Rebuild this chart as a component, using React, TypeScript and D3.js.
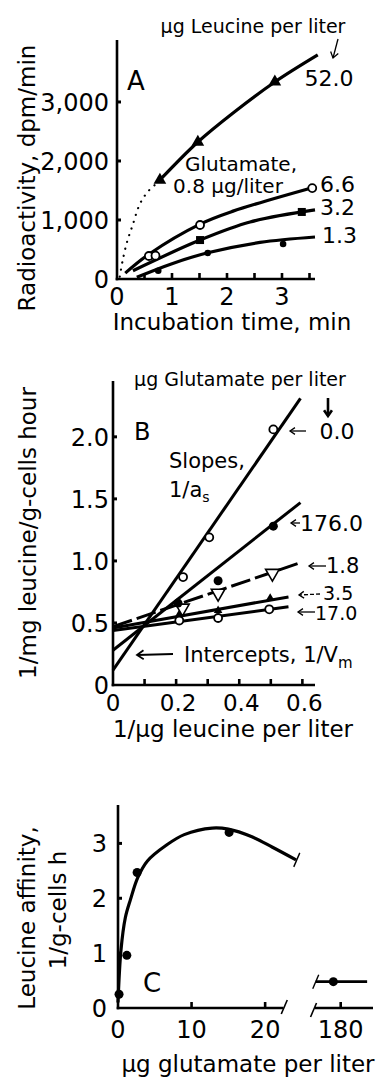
import React, { useEffect, useRef } from 'react';
import * as d3 from 'd3';

// ---- Panel A: radioactivity vs incubation time ----
const timeLabels = [0, 1, 2, 3];
const timeMinor = [0.5, 1, 1.5, 2, 2.5, 3, 3.5];
const radTicks = [0, 1000, 2000, 3000];
const radTickLabels = ['0', '1,000', '2,000', '3,000'];

const leu52Pts = [[0.78, 1678], [1.47, 2322], [2.87, 3340]];
const leu52Curve = [[0.78, 1678], [1.47, 2322], [2.11, 2814], [2.87, 3339], [3.65, 3797]];
const leu52Dotted = [[0.05, 40], [0.1, 300], [0.18, 620], [0.28, 900], [0.42, 1280], [0.58, 1500], [0.75, 1640]];
const leu66Pts = [[0.58, 390], [0.7, 395], [1.51, 915], [3.55, 1540]];
const leu66Curve = [[0.15, 100], [0.58, 420], [1.51, 930], [2.11, 1150], [3.6, 1560]];
const leu32Pts = [[1.51, 660], [3.36, 1136]];
const leu32Curve = [[0.29, 140], [1.51, 660], [2.42, 966], [3.6, 1170]];
const leu13Pts = [[0.75, 140], [1.65, 440], [3.02, 593]];
const leu13Curve = [[0.36, 30], [1.0, 260], [1.65, 445], [2.6, 620], [3.6, 712]];

// ---- Panel B: double reciprocal plot ----
const recipLabels = [0, 0.2, 0.4, 0.6];
const recipMinor = [0.1, 0.2, 0.3, 0.4, 0.5, 0.6];
const invTicks = [0, 0.5, 1.0, 1.5, 2.0];
const invTickLabels = ['0', '0.5', '1.0', '1.5', '2.0'];

const g0Line = [[0, 0.12], [0.594, 2.31]];
const g176Line = [[0, 0.28], [0.594, 1.47]];
const g18Line = [[0, 0.47], [0.587, 0.98]];
const g35Line = [[0, 0.46], [0.556, 0.71]];
const g17Line = [[0, 0.44], [0.556, 0.63]];
const g0Pts = [[0.222, 0.87], [0.305, 1.19], [0.508, 2.06]];
const g176Pts = [[0.206, 0.66], [0.333, 0.84], [0.508, 1.28]];
const g18Pts = [[0.22, 0.62], [0.333, 0.74], [0.505, 0.9]];
const g35Pts = [[0.21, 0.57], [0.333, 0.6], [0.498, 0.7]];
const g17Pts = [[0.21, 0.52], [0.333, 0.54], [0.495, 0.61]];

// ---- Panel C: affinity vs glutamate ----
const glutLabels = [0, 10, 20];
const glutMinor = [10, 20];
const glutFarLabels = [180];
const affTicks = [0, 1, 2, 3];
const affPts = [[0.14, 0.25], [1.2, 0.96], [2.6, 2.47], [15.1, 3.2]];
const affCurve = [[0, 0.1], [0.4, 1.05], [1, 1.65], [1.7, 1.98], [2.7, 2.38], [4, 2.68], [6.6, 2.97], [9, 3.16], [12.8, 3.28], [15, 3.26], [18.2, 3.12], [21, 2.93], [24.2, 2.7]];
const affFarPts = [[179, 0.48]];
const affFarLine = [[176.6, 0.48], [183.6, 0.48]];

const FONT = 'DejaVu Sans';

const App = () => {
  const ref = useRef(null);

  useEffect(() => {
    const svg = d3.select(ref.current);
    svg.selectAll('*').remove();
    const g = svg.append('g').attr('font-family', FONT).attr('fill', '#000');

    const txt = (x, y, s, size, anchor = 'start') =>
      g.append('text').attr('x', x).attr('y', y).attr('font-size', size)
        .attr('text-anchor', anchor).text(s);

    const arrow = (x1, y1, x2, y2, w = 1.5, dash = null, head = 6) => {
      const a = Math.atan2(y2 - y1, x2 - x1);
      const p = g.append('path')
        .attr('d', `M${x1},${y1}L${x2},${y2}`)
        .attr('stroke', '#000').attr('stroke-width', w).attr('fill', 'none');
      if (dash) p.attr('stroke-dasharray', dash);
      const h1 = [x2 - head * Math.cos(a - 0.6), y2 - head * Math.sin(a - 0.6)];
      const h2 = [x2 - head * Math.cos(a + 0.6), y2 - head * Math.sin(a + 0.6)];
      g.append('path')
        .attr('d', `M${h1}L${x2},${y2}L${h2}`)
        .attr('stroke', '#000').attr('stroke-width', w).attr('fill', 'none');
    };

    const curve = (pts, x, y, w = 3, dash = null, kind = d3.curveCatmullRom) => {
      const p = g.append('path')
        .datum(pts)
        .attr('d', d3.line().x(d => x(d[0])).y(d => y(d[1])).curve(kind))
        .attr('fill', 'none').attr('stroke', '#000').attr('stroke-width', w)
        .attr('stroke-linecap', 'butt');
      if (dash) p.attr('stroke-dasharray', dash);
      return p;
    };

    const marks = (pts, x, y, shape) => {
      pts.forEach(d => {
        const cx = x(d[0]), cy = y(d[1]);
        if (shape === 'openCircle') {
          g.append('circle').attr('cx', cx).attr('cy', cy).attr('r', 4)
            .attr('fill', '#fff').attr('stroke', '#000').attr('stroke-width', 1.8);
        } else if (shape === 'dot') {
          g.append('circle').attr('cx', cx).attr('cy', cy).attr('r', 3.3);
        } else if (shape === 'bigDot') {
          g.append('circle').attr('cx', cx).attr('cy', cy).attr('r', 4.5);
        } else if (shape === 'square') {
          g.append('rect').attr('x', cx - 4).attr('y', cy - 4).attr('width', 8).attr('height', 8);
        } else if (shape === 'triangle') {
          g.append('path').attr('d', d3.symbol().type(d3.symbolTriangle).size(70)())
            .attr('transform', `translate(${cx},${cy})`);
        } else if (shape === 'smallTriangle') {
          g.append('path').attr('d', d3.symbol().type(d3.symbolTriangle).size(32)())
            .attr('transform', `translate(${cx},${cy})`);
        } else if (shape === 'downTriangle') {
          g.append('path').attr('d', d3.symbol().type(d3.symbolTriangle).size(80)())
            .attr('transform', `translate(${cx},${cy}) rotate(180)`)
            .attr('fill', '#fff').attr('stroke', '#000').attr('stroke-width', 1.6);
        }
      });
    };

    const axisLine = (x1, y1, x2, y2) =>
      g.append('line').attr('x1', x1).attr('y1', y1).attr('x2', x2).attr('y2', y2)
        .attr('stroke', '#000').attr('stroke-width', 2.6);

    const yTickMarks = (vals, x0, y) => vals.forEach(v =>
      g.append('line').attr('x1', x0 - 1).attr('x2', x0 + 4).attr('y1', y(v)).attr('y2', y(v))
        .attr('stroke', '#000').attr('stroke-width', 3));

    const xTickMarks = (vals, x, y0) => vals.forEach(v =>
      g.append('line').attr('x1', x(v)).attr('x2', x(v)).attr('y1', y0).attr('y2', y0 - 6)
        .attr('stroke', '#000').attr('stroke-width', 2.6));

    const vLabel = (cx, cy, s, size) =>
      g.append('text').attr('transform', `translate(${cx},${cy}) rotate(-90)`)
        .attr('text-anchor', 'middle').attr('font-size', size).text(s);

    // ================= Panel A =================
    const xA = d3.scaleLinear().domain([0, 3.6]).range([117, 315]);
    const yA = d3.scaleLinear().domain([0, 4050]).range([279, 40]);

    axisLine(xA(0), yA(4050), xA(0), yA(0) + 1.3);
    axisLine(xA(0) - 1.3, yA(0), xA(3.6), yA(0));
    yTickMarks(radTicks.slice(1), xA(0), yA);
    xTickMarks(timeMinor, xA, yA(0));
    radTicks.forEach((v, i) => txt(109, yA(v) + 9, radTickLabels[i], 24, 'end'));
    timeLabels.forEach(v => txt(xA(v), 305, String(v), 24, 'middle'));
    txt(232, 330, 'Incubation time, min', 23, 'middle');
    vLabel(35, 178, 'Radioactivity, dpm/min', 23);

    curve(leu52Dotted, xA, yA, 1.8, '0.1 7').attr('stroke-linecap', 'round').attr('stroke-width', 2.2);
    curve(leu52Curve, xA, yA, 3.2);
    curve(leu66Curve, xA, yA, 3.2);
    curve(leu32Curve, xA, yA, 3.2);
    curve(leu13Curve, xA, yA, 3.2);
    marks(leu52Pts, xA, yA, 'triangle');
    marks(leu66Pts, xA, yA, 'openCircle');
    marks(leu32Pts, xA, yA, 'square');
    marks(leu13Pts, xA, yA, 'dot');

    txt(127, 90, 'A', 26);
    txt(253, 33, 'μg Leucine per liter', 19, 'middle');
    arrow(338, 39, 333, 58, 1.3, null, 7);
    txt(329, 86, '52.0', 22, 'middle');
    txt(241, 171, 'Glutamate,', 20, 'middle');
    txt(228, 193, '0.8 μg/liter', 20, 'middle');
    txt(320, 192, '6.6', 22);
    txt(320, 215, '3.2', 22);
    txt(322, 243, '1.3', 22);

    // ================= Panel B =================
    const xB = d3.scaleLinear().domain([0, 0.64]).range([113, 315]);
    const yB = d3.scaleLinear().domain([0, 2.45]).range([685, 381]);

    axisLine(xB(0), yB(2.45), xB(0), yB(0) + 1.3);
    axisLine(xB(0) - 1.3, yB(0), xB(0.64), yB(0));
    yTickMarks(invTicks.slice(1), xB(0), yB);
    xTickMarks(recipMinor, xB, yB(0));
    invTicks.forEach((v, i) => txt(109, yB(v) + 9, invTickLabels[i], 24, 'end'));
    recipLabels.forEach(v => txt(v === 0 ? xB(v) : xB(v) + 2, 711, String(v === 0 ? 0 : v.toFixed(1)), 23, 'middle'));
    txt(233, 737, '1/μg leucine per liter', 23, 'middle');
    vLabel(36, 533, '1/mg leucine/g-cells hour', 23);

    curve(g17Line, xB, yB, 3, null, d3.curveLinear);
    curve(g35Line, xB, yB, 3, null, d3.curveLinear);
    curve(g18Line, xB, yB, 3, '20 5', d3.curveLinear);
    curve(g176Line, xB, yB, 3, null, d3.curveLinear);
    curve(g0Line, xB, yB, 3, null, d3.curveLinear);
    marks(g17Pts, xB, yB, 'openCircle');
    marks(g35Pts, xB, yB, 'smallTriangle');
    marks(g18Pts, xB, yB, 'downTriangle');
    marks(g176Pts, xB, yB, 'bigDot');
    marks(g0Pts, xB, yB, 'openCircle');

    txt(134, 440, 'B', 24);
    txt(240, 386, 'μg Glutamate per liter', 19, 'middle');
    arrow(328, 398, 328, 416, 2.6, null, 7);
    arrow(306, 431, 290, 431, 1.3, null, 6);
    txt(337, 439, '0.0', 22, 'middle');
    txt(169, 468, 'Slopes,', 21);
    const sl = g.append('text').attr('x', 169).attr('y', 497).attr('font-size', 21);
    sl.append('tspan').text('1/');
    sl.append('tspan').text('a');
    sl.append('tspan').attr('font-size', 14).attr('dy', 5).text('s');
    arrow(300, 523, 291, 523, 1.3, null, 6);
    txt(300, 531, '176.0', 22);
    arrow(326, 566, 309, 566, 1.3, null, 6);
    txt(326, 573, '1.8', 21);
    arrow(320, 594, 299, 595, 1.3, '4 2', 6);
    txt(323, 600, '3.5', 19);
    arrow(315, 612, 298, 612, 1.3, null, 6);
    txt(315, 620, '17.0', 19);
    arrow(173, 654, 137, 655, 1.8, null, 8);
    const ic = g.append('text').attr('x', 184).attr('y', 662).attr('font-size', 21);
    ic.append('tspan').text('Intercepts, 1/V');
    ic.append('tspan').attr('font-size', 15).attr('dy', 6).text('m');

    // ================= Panel C =================
    const xC = d3.scaleLinear().domain([0, 22.7]).range([118, 285]);
    const xC2 = d3.scaleLinear().domain([176.5, 184.4]).range([315, 373]);
    const yC = d3.scaleLinear().domain([0, 3.7]).range([1008, 805]);

    axisLine(xC(0), yC(3.7), xC(0), yC(0) + 1.3);
    axisLine(xC(0) - 1.3, yC(0), xC(22.5), yC(0));
    axisLine(xC2(176.5), yC(0), xC2(184.4), yC(0));
    yTickMarks(affTicks.slice(1), xC(0), yC);
    xTickMarks(glutMinor, xC, yC(0));
    xTickMarks(glutFarLabels, xC2, yC(0));
    // axis break marks
    const slash = (x, y, w = 1.6) =>
      g.append('line').attr('x1', x - 3).attr('y1', y + 7).attr('x2', x + 3).attr('y2', y - 7)
        .attr('stroke', '#000').attr('stroke-width', w);
    slash(xC(22.6), yC(0) - 1);
    slash(xC2(176.3), yC(0) + 2);

    affTicks.forEach(v => txt(107, yC(v) + 9, String(v), 24, 'end'));
    glutLabels.forEach(v => txt(xC(v), 1038, String(v), 24, 'middle'));
    glutFarLabels.forEach(v => txt(xC2(v), 1038, String(v), 24, 'middle'));
    txt(248, 1072, 'μg glutamate per liter', 23, 'middle');
    vLabel(35, 918, 'Leucine  affinity,', 23);
    vLabel(66, 910, '1/g-cells h', 23);

    curve(affCurve, xC, yC, 3.2, null, d3.curveCatmullRom.alpha(0.5));
    slash(xC(24.3), yC(2.7), 1.4);
    curve(affFarLine, xC2, yC, 2.6, null, d3.curveLinear);
    slash(xC2(176.6), yC(0.48), 1.4);
    marks(affPts, xC, yC, 'bigDot');
    marks(affFarPts, xC2, yC, 'bigDot');

    txt(143, 992, 'C', 26);
  }, []);

  return (
    <svg ref={ref} width={388} height={1083}
      style={{ position: 'absolute', left: 0, top: 0, background: '#fff' }} />
  );
};

export default App;
